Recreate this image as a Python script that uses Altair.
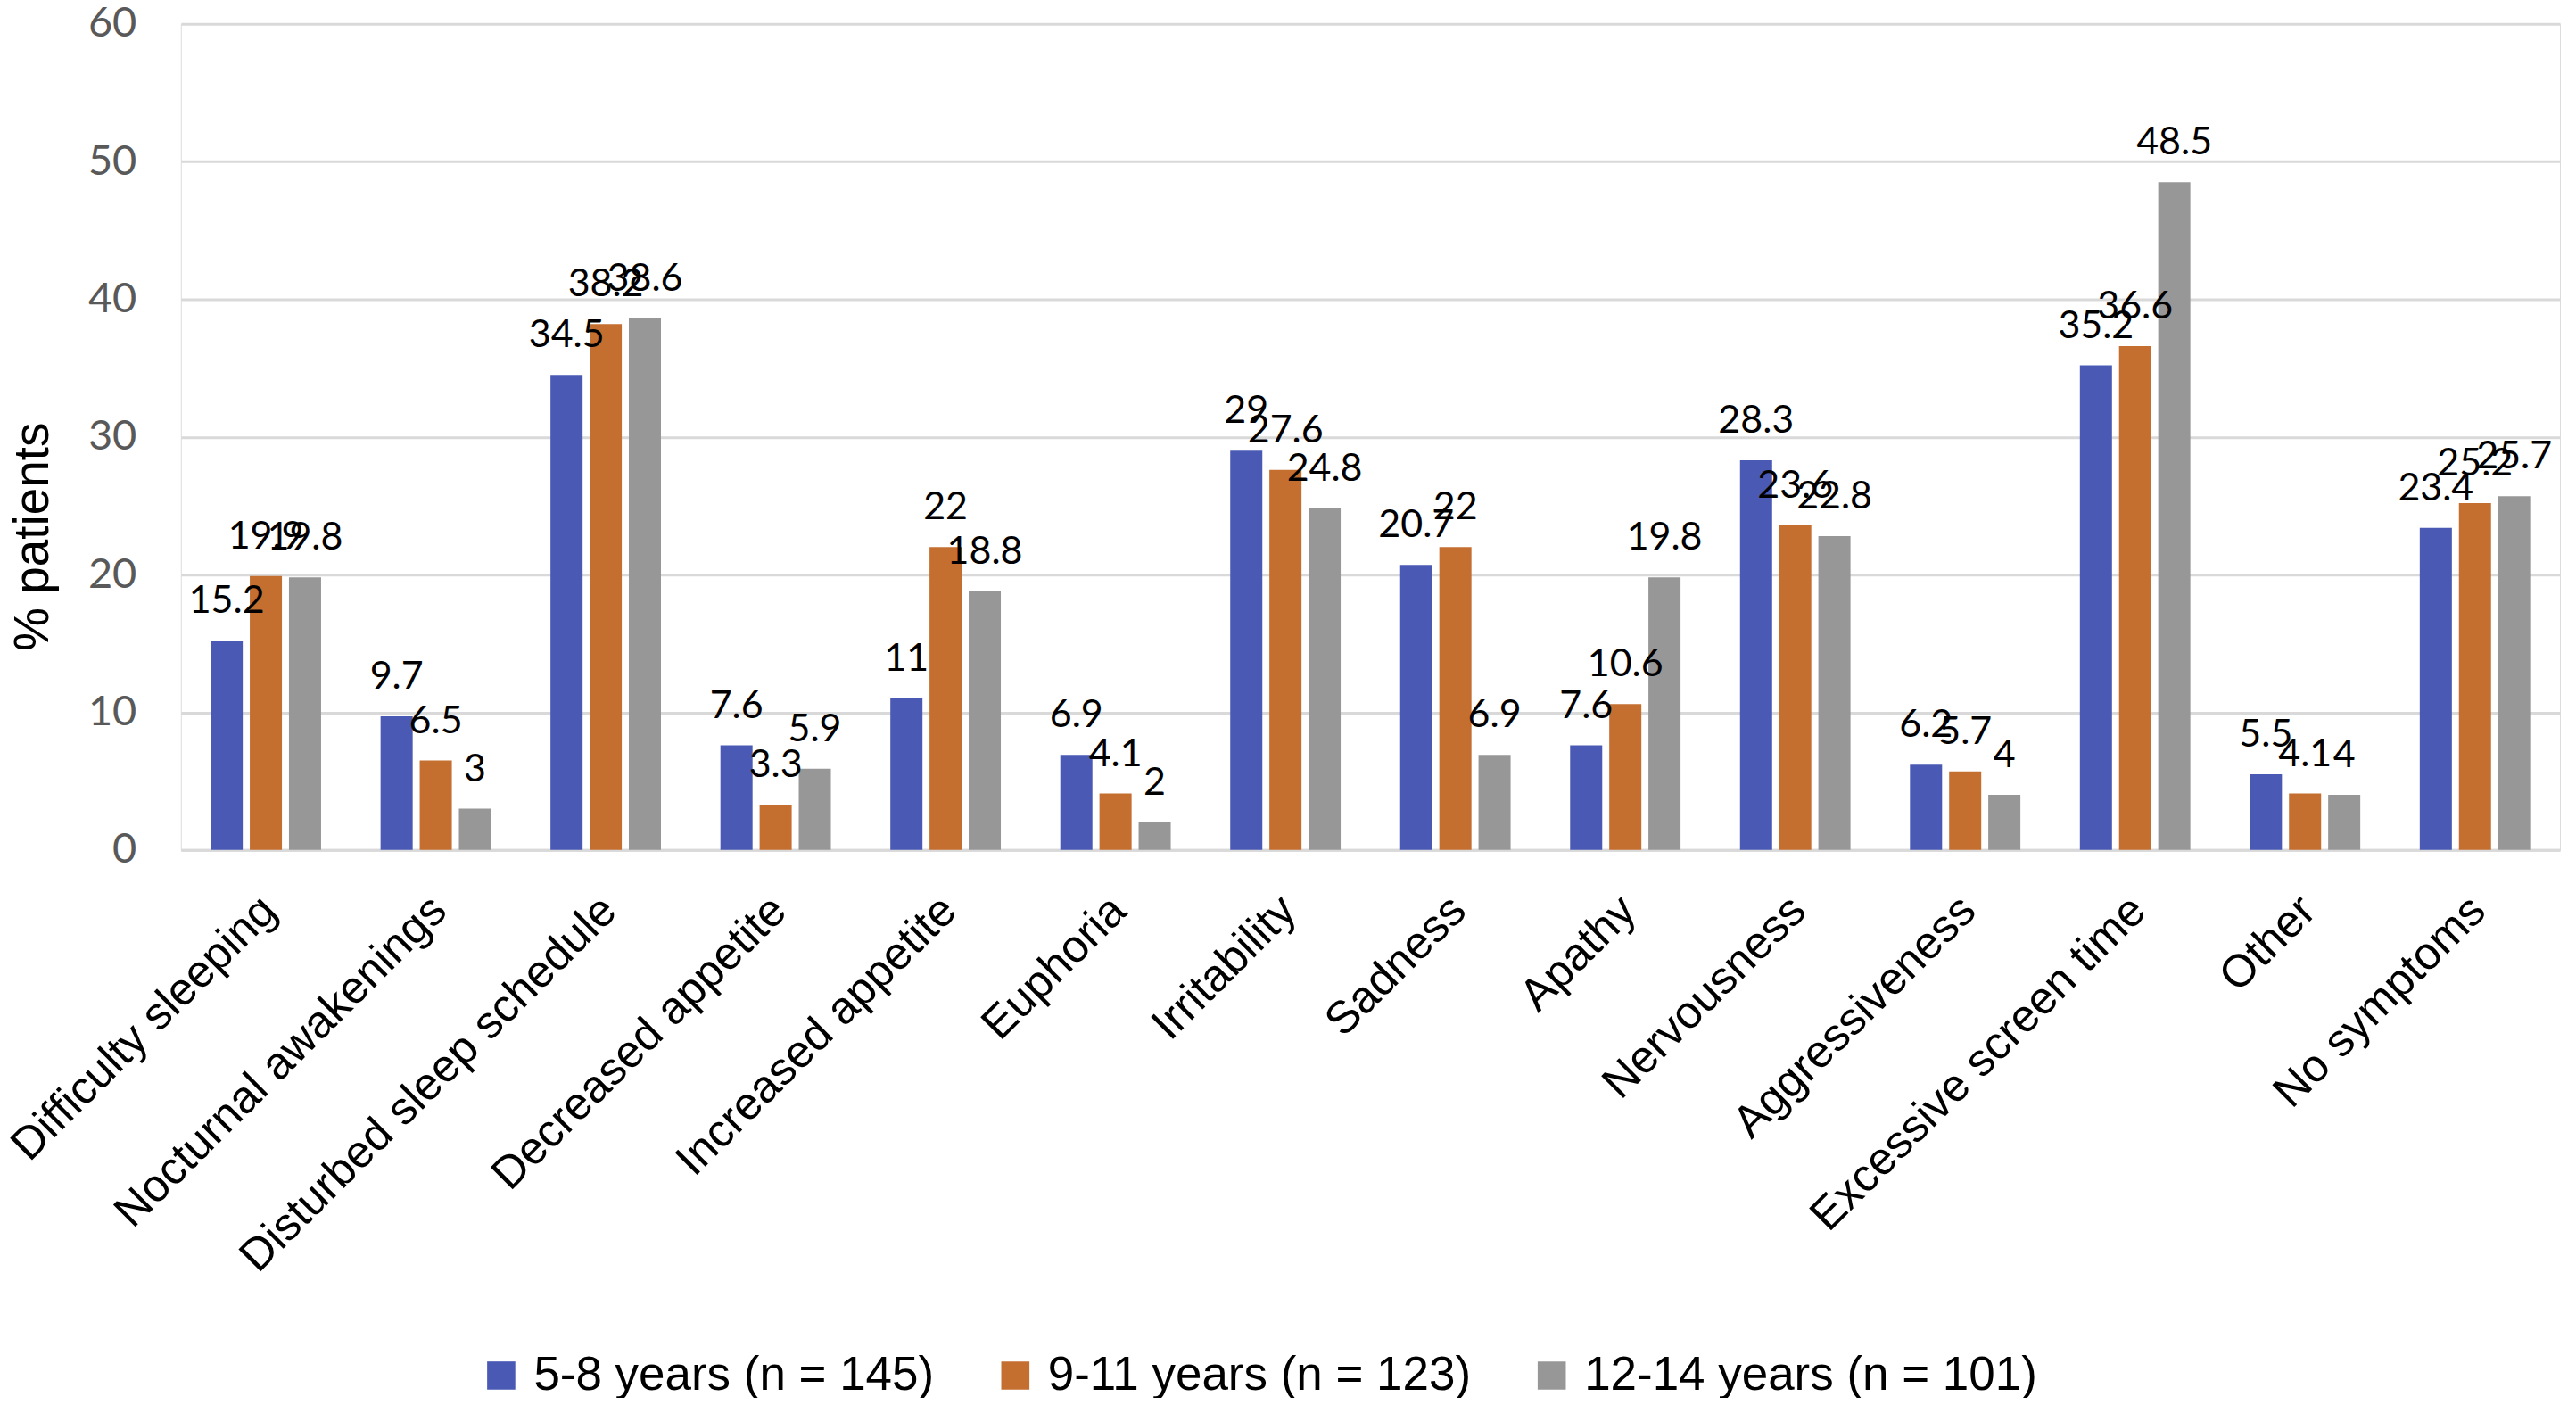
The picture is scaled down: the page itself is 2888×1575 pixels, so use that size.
import altair as alt
import pandas as pd

categories = ["Difficulty sleeping", "Nocturnal awakenings", "Disturbed sleep schedule",
              "Decreased appetite", "Increased appetite", "Euphoria", "Irritability",
              "Sadness", "Apathy", "Nervousness", "Aggressiveness",
              "Excessive screen time", "Other", "No symptoms"]
groups = ["5-8 years (n = 145)", "9-11 years (n = 123)", "12-14 years (n = 101)"]
age_5_8 = [15.2, 9.7, 34.5, 7.6, 11, 6.9, 29, 20.7, 7.6, 28.3, 6.2, 35.2, 5.5, 23.4]
age_9_11 = [19.9, 6.5, 38.2, 3.3, 22, 4.1, 27.6, 22, 10.6, 23.6, 5.7, 36.6, 4.1, 25.2]
age_12_14 = [19.8, 3, 38.6, 5.9, 18.8, 2, 24.8, 6.9, 19.8, 22.8, 4, 48.5, 4, 25.7]
colors = ["#4A5AB4", "#C46E30", "#979797"]
y_ticks = [0, 10, 20, 30, 40, 50, 60]

rows = []
for g, series in zip(groups, [age_5_8, age_9_11, age_12_14]):
    for c, v in zip(categories, series):
        rows.append({"category": c, "group": g, "value": v,
                     "label": ("%g" % v)})
df = pd.DataFrame(rows)

x_enc = alt.X("category:N", sort=categories, title=None,
              scale=alt.Scale(paddingInner=0.35, paddingOuter=0.175),
              axis=alt.Axis(labelAngle=-45, labelAlign="right", labelBaseline="middle",
                            labelFontSize=51, labelFont="Liberation Sans", labelColor="#000000",
                            labelPadding=60, labelOffset=4, ticks=False, domain=True,
                            domainColor="#D9D9D9", domainWidth=3, grid=False,
                            labelLimit=1000))
xoff = alt.XOffset("group:N", sort=groups, scale=alt.Scale(paddingInner=0.18))

bars = alt.Chart(df).mark_bar().encode(
    x=x_enc,
    xOffset=xoff,
    y=alt.Y("value:Q", title="% patients",
            scale=alt.Scale(domain=[0, 60], nice=False),
            axis=alt.Axis(values=y_ticks, labelFontSize=47, labelFont="Lato",
                          labelColor="#595959", labelPadding=50, ticks=False,
                          domain=False, gridColor="#D9D9D9", gridWidth=3,
                          titleFontSize=55, titleFont="Liberation Sans",
                          titleFontWeight="normal", titleColor="#000000",
                          titleAngle=270, titleAlign="center", titleBaseline="middle",
                          titleX=-166, titleY=575)),
    color=alt.Color("group:N", sort=groups,
                    scale=alt.Scale(domain=groups, range=colors),
                    legend=alt.Legend(title=None, orient="none", direction="horizontal",
                                      legendX=333, legendY=1490,
                                      symbolType="square", symbolSize=1000,
                                      symbolStrokeWidth=0, labelFontSize=53,
                                      labelFont="Liberation Sans",
                                      labelColor="#000000", columnPadding=64,
                                      labelOffset=10, labelLimit=1000)),
)

labels = alt.Chart(df).mark_text(baseline="bottom", dy=-22, fontSize=43,
                                 font="Lato", color="#000000").encode(
    x=alt.X("category:N", sort=categories),
    xOffset=xoff,
    y="value:Q",
    text="label:N",
)

chart = alt.layer(bars, labels).properties(
    width=2670, height=927,
    autosize=alt.AutoSizeParams(type="none"),
    padding={"left": 195, "top": 18, "right": 10, "bottom": 614},
).configure_view(stroke=None).configure(background="white")

chart.save("out.html", embed_options={"renderer": "svg", "actions": False})
